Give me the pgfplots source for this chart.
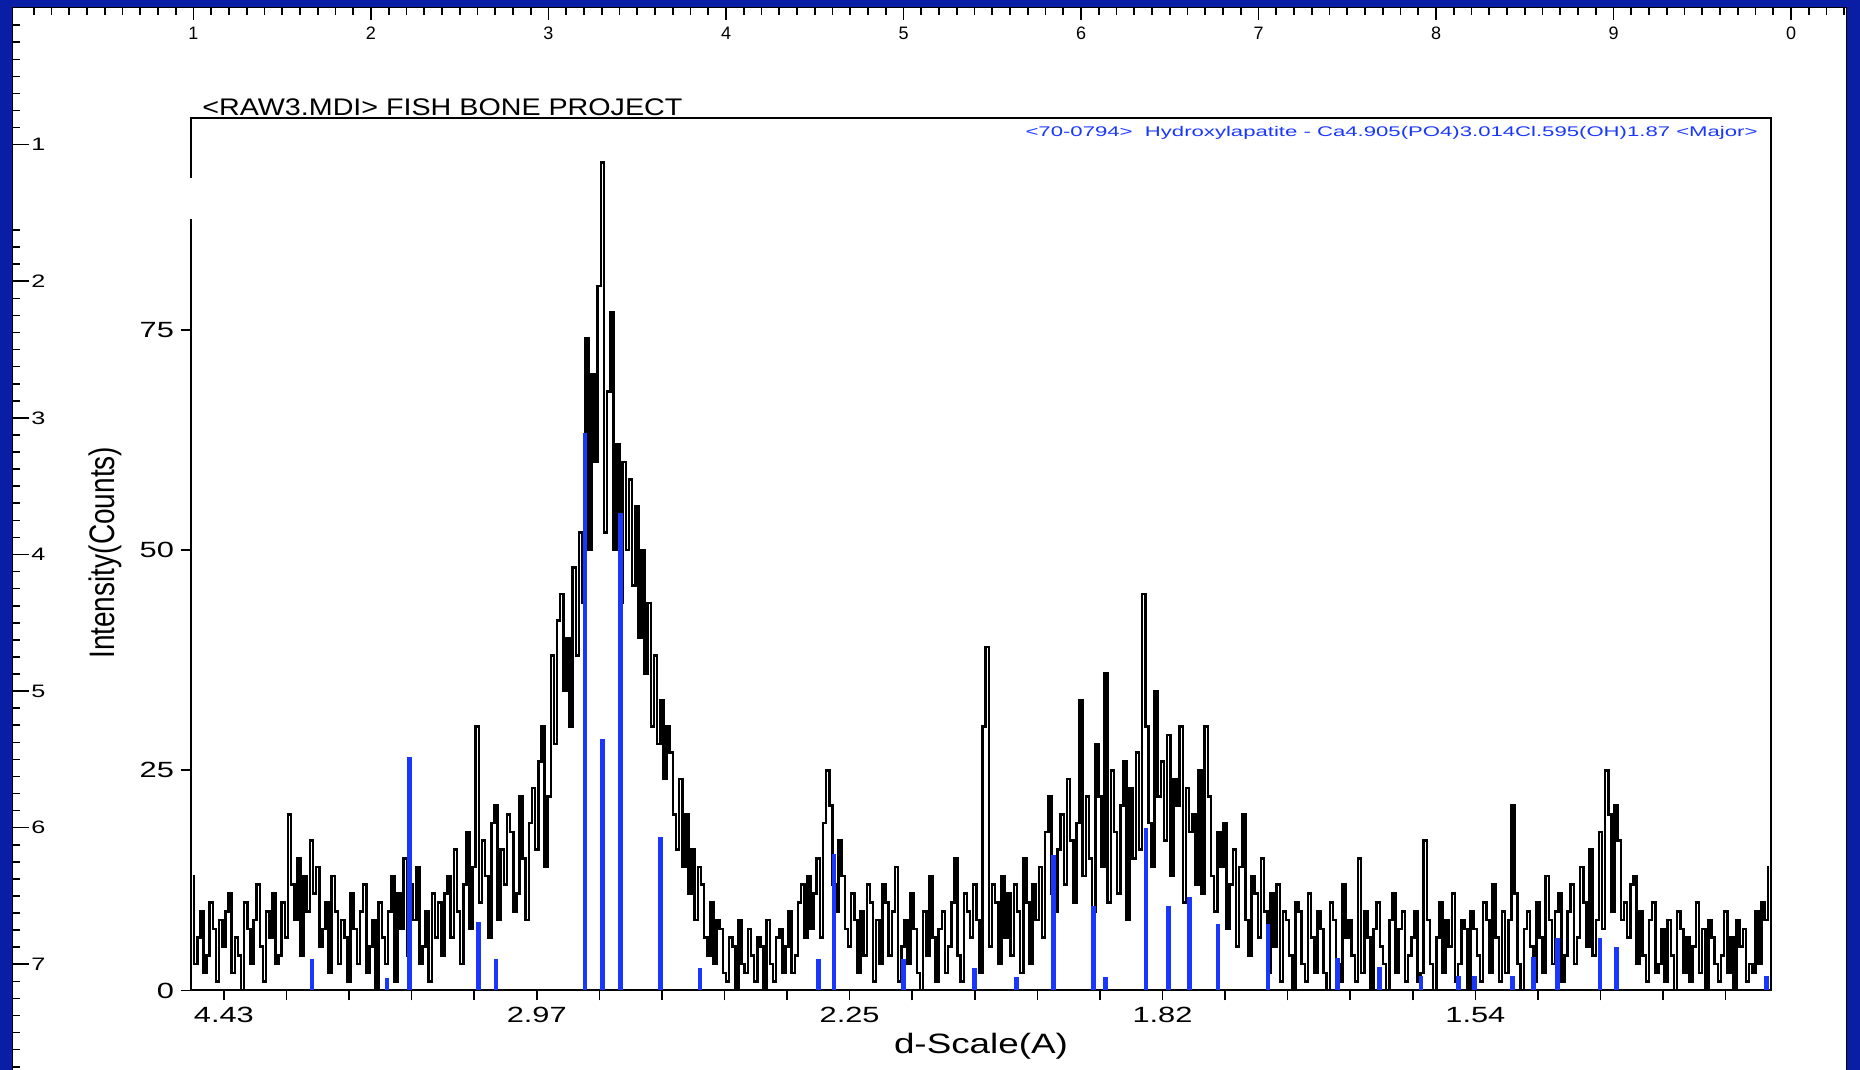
\documentclass[border=0pt]{standalone}
\usepackage{pgfplots}
\pgfplotsset{compat=1.18}
\usepackage{fontspec}
\setmainfont{Liberation Sans}
\definecolor{winblue}{RGB}{10,30,165}
\definecolor{refblue}{RGB}{25,55,255}
\newcommand\sx[1]{\scalebox{1.4}[1]{#1}}

\begin{document}
\begin{tikzpicture}[x=0.5pt,y=0.5pt]
\useasboundingbox (0,0) rectangle (1860,1070);
% window frame
\fill[winblue] (0,0) rectangle (1860,1070);
\fill[white] (12,0) rectangle (1846,1062);
\draw[black,line width=0.5pt] (12,-2) -- (12,1062) -- (1846,1062) -- (1846,-2);

% top ruler
\foreach \i in {1,...,103}{
  \pgfmathsetmacro\xx{16+17.75*\i}
  \pgfmathtruncatemacro\m{mod(\i,10)}
  \ifnum\m=0
    \draw[line width=0.8pt] (\xx,1062) -- (\xx,1050);
  \else
    \draw[line width=0.8pt] (\xx,1062) -- (\xx,1055);
  \fi
}
\foreach \k/\lab in {1/1,2/2,3/3,4/4,5/5,6/6,7/7,8/8,9/9,10/0}{
  \node[inner sep=0,font=\fontsize{9}{10}\selectfont] at ({16+177.5*\k},1037) {\lab};
}

% left ruler
\foreach \j in {1,...,62}{
  \pgfmathsetmacro\yy{1070-(8.1+17.075*\j)}
  \pgfmathtruncatemacro\m{mod(\j,8)}
  \pgfmathtruncatemacro\skip{(\j>8)&&(\j<13)}
  \ifnum\skip=0
    \ifnum\m=0
      \draw[line width=0.8pt] (12,\yy) -- (29,\yy);
    \else
      \draw[line width=0.8pt] (12,\yy) -- (20,\yy);
    \fi
  \fi
}
\foreach \k in {1,...,7}{
  \node[anchor=west,inner sep=0,font=\fontsize{9}{10}\selectfont] at (31,{1070-(144.7+136.6*(\k-1))}) {\sx{\k}};
}

\begin{axis}[
  at={(95.5pt,39.75pt)}, anchor=south west,
  scale only axis, width=790pt, height=436pt,
  xmin=18.95, xmax=69.45, ymin=0, ymax=99,
  axis line style={line width=1pt},
  xtick={20,30,40,50,60},
  xticklabels={\sx{4.43},\sx{2.97},\sx{2.25},\sx{1.82},\sx{1.54}},
  minor xtick={22,24,26,28,32,34,36,38,42,44,46,48,52,54,56,58,62,64,66,68},
  ytick={0,25,50,75},
  yticklabels={\sx{0},\sx{25},\sx{50},\sx{75}},
  tick align=outside, xtick pos=left, ytick pos=left,
  major tick length=5pt, minor tick length=5pt,
  tick style={black,line width=0.8pt},
  ticklabel style={font=\fontsize{11}{13}\selectfont},
]
% measured pattern (2theta, counts)
\addplot[black, line width=1.3pt, const plot mark mid] coordinates {
(19.0,13)(19.1,3)(19.2,6)(19.3,9)(19.4,2)(19.5,4)(19.6,10)(19.7,7)(19.8,1)(19.9,8)
(20.0,5)(20.1,9)(20.2,11)(20.3,2)(20.4,6)(20.5,4)(20.6,0)(20.7,10)(20.8,7)(20.9,3)
(21.0,8)(21.1,12)(21.2,5)(21.3,1)(21.4,9)(21.5,6)(21.6,11)(21.7,3)(21.8,4)(21.9,10)
(22.0,6)(22.1,20)(22.2,12)(22.3,8)(22.4,15)(22.5,4)(22.6,13)(22.7,9)(22.8,17)(22.9,11)
(23.0,14)(23.1,5)(23.2,7)(23.3,10)(23.4,2)(23.5,13)(23.6,9)(23.7,3)(23.8,8)(23.9,6)
(24.0,1)(24.1,11)(24.2,7)(24.3,3)(24.4,9)(24.5,12)(24.6,2)(24.7,5)(24.8,8)(24.9,0)
(25.0,10)(25.1,6)(25.2,3)(25.3,9)(25.4,13)(25.5,1)(25.6,11)(25.7,7)(25.8,15)(25.9,4)
(26.0,12)(26.1,8)(26.2,14)(26.3,3)(26.4,5)(26.5,9)(26.6,1)(26.7,11)(26.8,6)(26.9,10)
(27.0,4)(27.1,11)(27.2,13)(27.3,6)(27.4,16)(27.5,9)(27.6,3)(27.7,12)(27.8,18)(27.9,7)
(28.0,14)(28.1,30)(28.2,10)(28.3,17)(28.4,13)(28.5,6)(28.6,19)(28.7,21)(28.8,8)(28.9,16)
(29.0,12)(29.1,20)(29.2,18)(29.3,9)(29.4,11)(29.5,22)(29.6,15)(29.7,8)(29.8,19)(29.9,23)
(30.0,16)(30.1,26)(30.2,30)(30.3,14)(30.4,22)(30.5,38)(30.6,28)(30.7,42)(30.8,45)(30.9,34)
(31.0,40)(31.1,30)(31.2,48)(31.3,38)(31.4,52)(31.5,44)(31.6,74)(31.7,50)(31.8,70)(31.9,60)
(32.0,80)(32.1,94)(32.2,52)(32.3,68)(32.4,77)(32.5,50)(32.6,62)(32.7,44)(32.8,60)(32.9,50)
(33.0,58)(33.1,46)(33.2,55)(33.3,40)(33.4,50)(33.5,36)(33.6,44)(33.7,30)(33.8,38)(33.9,28)
(34.0,33)(34.1,24)(34.2,30)(34.3,27)(34.4,20)(34.5,16)(34.6,24)(34.7,14)(34.8,20)(34.9,11)
(35.0,16)(35.1,8)(35.2,14)(35.3,12)(35.4,6)(35.5,4)(35.6,10)(35.7,3)(35.8,8)(35.9,7)
(36.0,2)(36.1,1)(36.2,6)(36.3,5)(36.4,0)(36.5,8)(36.6,3)(36.7,2)(36.8,7)(36.9,4)
(37.0,1)(37.1,6)(37.2,5)(37.3,0)(37.4,8)(37.5,3)(37.6,1)(37.7,6)(37.8,7)(37.9,2)
(38.0,5)(38.1,9)(38.2,2)(38.3,4)(38.4,10)(38.5,12)(38.6,6)(38.7,13)(38.8,7)(38.9,11)
(39.0,15)(39.1,6)(39.2,19)(39.3,25)(39.4,21)(39.5,12)(39.6,9)(39.7,17)(39.8,13)(39.9,7)
(40.0,5)(40.1,11)(40.2,8)(40.3,2)(40.4,9)(40.5,4)(40.6,12)(40.7,10)(40.8,1)(40.9,8)
(41.0,3)(41.1,12)(41.2,10)(41.3,4)(41.4,9)(41.5,14)(41.6,1)(41.7,5)(41.8,8)(41.9,3)
(42.0,11)(42.1,7)(42.2,2)(42.3,0)(42.4,9)(42.5,4)(42.6,13)(42.7,6)(42.8,1)(42.9,7)
(43.0,9)(43.1,2)(43.2,5)(43.3,10)(43.4,15)(43.5,4)(43.6,1)(43.7,11)(43.8,9)(43.9,6)
(44.0,12)(44.1,8)(44.2,2)(44.3,30)(44.4,39)(44.5,5)(44.6,12)(44.7,10)(44.8,3)(44.9,13)
(45.0,6)(45.1,11)(45.2,4)(45.3,12)(45.4,9)(45.5,2)(45.6,15)(45.7,10)(45.8,3)(45.9,12)
(46.0,8)(46.1,14)(46.2,6)(46.3,18)(46.4,22)(46.5,11)(46.6,9)(46.7,16)(46.8,20)(46.9,12)
(47.0,24)(47.1,17)(47.2,10)(47.3,19)(47.4,33)(47.5,13)(47.6,22)(47.7,15)(47.8,9)(47.9,28)
(48.0,22)(48.1,14)(48.2,36)(48.3,10)(48.4,25)(48.5,18)(48.6,11)(48.7,21)(48.8,26)(48.9,8)
(49.0,23)(49.1,15)(49.2,27)(49.3,16)(49.4,45)(49.5,30)(49.6,19)(49.7,14)(49.8,34)(49.9,22)
(50.0,26)(50.1,17)(50.2,29)(50.3,13)(50.4,24)(50.5,21)(50.6,30)(50.7,10)(50.8,23)(50.9,18)
(51.0,20)(51.1,12)(51.2,25)(51.3,11)(51.4,30)(51.5,22)(51.6,13)(51.7,9)(51.8,18)(51.9,14)
(52.0,19)(52.1,7)(52.2,12)(52.3,16)(52.4,5)(52.5,14)(52.6,20)(52.7,8)(52.8,4)(52.9,13)
(53.0,11)(53.1,6)(53.2,15)(53.3,9)(53.4,2)(53.5,11)(53.6,5)(53.7,12)(53.8,1)(53.9,9)
(54.0,8)(54.1,4)(54.2,0)(54.3,10)(54.4,9)(54.5,3)(54.6,1)(54.7,11)(54.8,6)(54.9,2)
(55.0,9)(55.1,7)(55.2,2)(55.3,0)(55.4,10)(55.5,8)(55.6,3)(55.7,1)(55.8,12)(55.9,6)
(56.0,8)(56.1,4)(56.2,1)(56.3,15)(56.4,2)(56.5,9)(56.6,6)(56.7,0)(56.8,7)(56.9,10)
(57.0,5)(57.1,3)(57.2,0)(57.3,8)(57.4,11)(57.5,2)(57.6,7)(57.7,9)(57.8,1)(57.9,4)
(58.0,6)(58.1,9)(58.2,1)(58.3,2)(58.4,17)(58.5,8)(58.6,3)(58.7,0)(58.8,6)(58.9,10)
(59.0,2)(59.1,8)(59.2,5)(59.3,11)(59.4,1)(59.5,3)(59.6,8)(59.7,7)(59.8,0)(59.9,9)
(60.0,7)(60.1,4)(60.2,1)(60.3,10)(60.4,8)(60.5,2)(60.6,12)(60.7,6)(60.8,1)(60.9,9)
(61.0,2)(61.1,8)(61.2,21)(61.3,11)(61.4,3)(61.5,0)(61.6,7)(61.7,9)(61.8,5)(61.9,1)
(62.0,10)(62.1,6)(62.2,2)(62.3,13)(62.4,8)(62.5,3)(62.6,9)(62.7,11)(62.8,1)(62.9,4)
(63.0,9)(63.1,12)(63.2,3)(63.3,6)(63.4,14)(63.5,10)(63.6,5)(63.7,16)(63.8,4)(63.9,8)
(64.0,18)(64.1,7)(64.2,25)(64.3,20)(64.4,9)(64.5,21)(64.6,17)(64.7,8)(64.8,10)(64.9,6)
(65.0,12)(65.1,13)(65.2,3)(65.3,9)(65.4,4)(65.5,1)(65.6,8)(65.7,10)(65.8,2)(65.9,3)
(66.0,7)(66.1,1)(66.2,8)(66.3,4)(66.4,0)(66.5,9)(66.6,7)(66.7,2)(66.8,6)(66.9,1)
(67.0,5)(67.1,10)(67.2,2)(67.3,7)(67.4,0)(67.5,8)(67.6,6)(67.7,3)(67.8,1)(67.9,4)
(68.0,9)(68.1,2)(68.2,6)(68.3,0)(68.4,8)(68.5,5)(68.6,7)(68.7,1)(68.8,3)(68.9,2)
(69.0,9)(69.1,3)(69.2,10)(69.3,8)(69.4,14)
};
% reference card 70-0794 stick pattern
\addplot[refblue, line width=2.3pt, ycomb] coordinates {
(22.82,3.6)(25.21,1.4)(25.93,26.5)(28.13,7.8)(28.70,3.6)(31.54,63.3)(32.11,28.5)
(32.68,54.2)(33.96,17.4)(35.22,2.5)(39.00,3.6)(39.50,15.5)(41.73,3.6)(44.00,2.5)
(45.34,1.5)(46.51,15.4)(47.80,9.6)(48.18,1.5)(49.47,18.4)(50.19,9.6)(50.87,10.6)
(51.78,7.6)(53.37,7.6)(55.60,3.7)(56.93,2.7)(58.26,1.6)(59.47,1.6)(59.97,1.6)
(61.18,1.6)(61.86,3.8)(62.62,6.0)(63.98,6.0)(64.51,4.9)(69.31,1.6)
};
\end{axis}

% break in the left frame line
\draw[white,line width=1.6pt] (95.5pt,425.5pt) -- (95.5pt,446pt);

% titles and labels
\node[anchor=west,inner sep=0] at (202,963)
  {\resizebox{240pt}{\height}{\fontsize{12}{14}\selectfont <RAW3.MDI> FISH BONE PROJECT}};
\node[anchor=east,inner sep=0,text=refblue] at (1758,937)
  {\resizebox{366pt}{\height}{\fontsize{7}{8}\selectfont <70-0794>\ \ Hydroxylapatite - Ca4.905(PO4)3.014Cl.595(OH)1.87 <Major>}};
\node[inner sep=0] at (981,24)
  {\resizebox{87pt}{\height}{\fontsize{14}{16}\selectfont d-Scale(A)}};
\node[inner sep=0] at (105.5,517.2)
  {\rotatebox{90}{\resizebox*{106pt}{16.5pt}{\fontsize{14}{16}\selectfont Intensity(Counts)}}};
\end{tikzpicture}
\end{document}
